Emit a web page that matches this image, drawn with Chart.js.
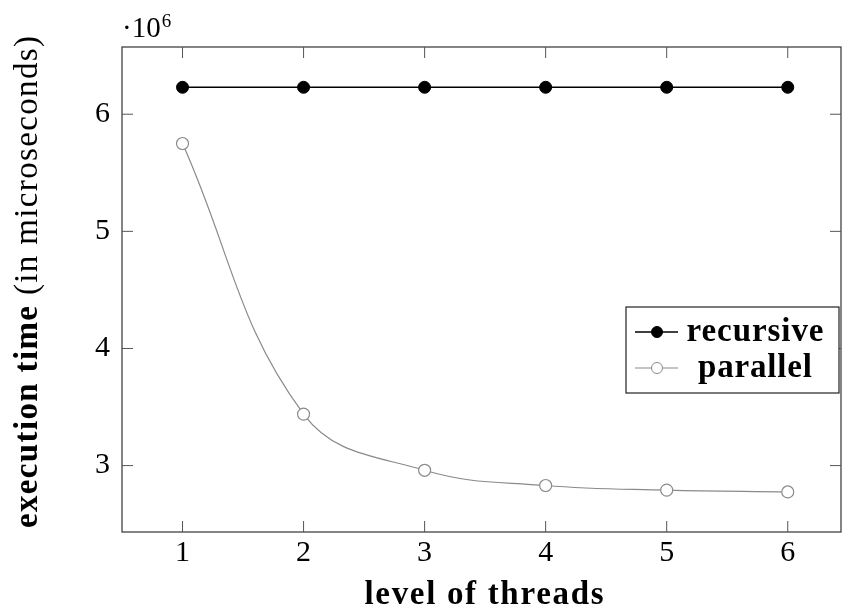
<!DOCTYPE html>
<html>
<head>
<meta charset="utf-8">
<script src="https://cdn.jsdelivr.net/npm/chart.js@4/dist/chart.umd.min.js"></script>
<style>
  html, body { margin: 0; padding: 0; background: #fff; }
  #wrap { width: 842px; height: 610px; position: relative; }
</style>
</head>
<body>
<div id="wrap"><canvas id="chart" width="842" height="610"></canvas></div>
<script>
// level of threads vs execution time (microseconds)
const threadLevels = [1, 2, 3, 4, 5, 6];
const recursiveTimes = [6.23e6, 6.23e6, 6.23e6, 6.23e6, 6.23e6, 6.23e6];
const parallelTimes = [5.75e6, 3.44e6, 2.96e6, 2.83e6, 2.79e6, 2.775e6];
const yTicks = [3e6, 4e6, 5e6, 6e6];
const seriesNames = ['recursive', 'parallel'];
const xTitle = 'level of threads';
const yTitleBold = 'execution time';
const yTitleRest = ' (in microseconds)';

const SERIF = '"Liberation Serif", "DejaVu Serif", serif';
const GRAY = '#8a8a8a';

// espaciado de letras para imitar el ancho de Computer Modern
function spacedText(ctx, parts, x, y, target) {
  ctx.letterSpacing = '0px';
  let w = 0, n = 0;
  parts.forEach(p => { ctx.font = p.font; w += ctx.measureText(p.text).width; n += p.text.length; });
  const sp = Math.max((target - w) / (n - 1), 0);
  ctx.letterSpacing = sp + 'px';
  let cx = x - target / 2;
  parts.forEach(p => {
    ctx.font = p.font;
    ctx.fillText(p.text, cx, y);
    cx += ctx.measureText(p.text).width;
  });
  ctx.letterSpacing = '0px';
}

const framePlugin = {
  id: 'frame',
  afterDraw(chart) {
    const { ctx, chartArea: a, scales: { x, y } } = chart;
    ctx.save();
    ctx.strokeStyle = '#333';
    ctx.lineWidth = 1.2;
    ctx.strokeRect(a.left, a.top, a.right - a.left, a.bottom - a.top);
    ctx.lineWidth = 1;
    ctx.strokeStyle = '#555';
    const t = 11;
    threadLevels.forEach(v => {
      const px = x.getPixelForValue(v);
      ctx.beginPath();
      ctx.moveTo(px, a.bottom); ctx.lineTo(px, a.bottom - t);
      ctx.moveTo(px, a.top); ctx.lineTo(px, a.top + t);
      ctx.stroke();
    });
    yTicks.forEach(v => {
      const py = y.getPixelForValue(v);
      ctx.beginPath();
      ctx.moveTo(a.left, py); ctx.lineTo(a.left + t, py);
      ctx.moveTo(a.right, py); ctx.lineTo(a.right - t, py);
      ctx.stroke();
    });

    // multiplicador ·10^6
    ctx.fillStyle = '#000';
    ctx.textBaseline = 'alphabetic';
    ctx.textAlign = 'left';
    ctx.font = '29px ' + SERIF;
    ctx.fillText('·10', 122, 37);
    const w10 = ctx.measureText('·10').width;
    ctx.font = '19px ' + SERIF;
    ctx.fillText('6', 122 + w10 + 1, 27);

    // título eje x
    spacedText(ctx, [{ text: xTitle, font: 'bold 33px ' + SERIF }], 484, 604, 239);

    // título eje y con partes en negrita
    ctx.save();
    ctx.translate(37, 282);
    ctx.rotate(-Math.PI / 2);
    spacedText(ctx, [
      { text: yTitleBold, font: 'bold 33px ' + SERIF },
      { text: yTitleRest, font: '33px ' + SERIF }
    ], 0, 0, 492);
    ctx.restore();
    ctx.restore();

    // leyenda dentro del área
    ctx.save();
    const lx = 626, ly = 307, lw = 213, lh = 86;
    ctx.fillStyle = '#fff';
    ctx.fillRect(lx, ly, lw, lh);
    ctx.strokeStyle = '#222';
    ctx.lineWidth = 1.2;
    ctx.strokeRect(lx, ly, lw, lh);
    const widths = [137, 114];
    chart.data.datasets.forEach((ds, i) => {
      const cy = ly + 25 + i * 36;
      ctx.strokeStyle = ds.borderColor;
      ctx.lineWidth = ds.borderWidth;
      ctx.beginPath();
      ctx.moveTo(lx + 9, cy); ctx.lineTo(lx + 52, cy);
      ctx.stroke();
      ctx.beginPath();
      ctx.arc(lx + 31, cy, 5.5, 0, Math.PI * 2);
      ctx.fillStyle = ds.pointBackgroundColor;
      ctx.fill();
      ctx.strokeStyle = ds.pointBorderColor;
      ctx.lineWidth = 1;
      ctx.stroke();
      ctx.fillStyle = '#000';
      ctx.textAlign = 'left';
      ctx.textBaseline = 'alphabetic';
      spacedText(ctx, [{ text: ds.label, font: 'bold 33px ' + SERIF }], lx + 129, cy + 9, widths[i]);
    });
    ctx.restore();
  }
};

new Chart(document.getElementById('chart'), {
  type: 'line',
  data: {
    labels: threadLevels,
    datasets: [
      {
        label: seriesNames[0],
        data: threadLevels.map((v, i) => ({ x: v, y: recursiveTimes[i] })),
        borderColor: '#000',
        borderWidth: 1.5,
        pointRadius: 6,
        pointBackgroundColor: '#000',
        pointBorderColor: '#000',
        pointBorderWidth: 1,
        tension: 0
      },
      {
        label: seriesNames[1],
        data: threadLevels.map((v, i) => ({ x: v, y: parallelTimes[i] })),
        borderColor: GRAY,
        borderWidth: 1.2,
        pointRadius: 6,
        pointBackgroundColor: '#fff',
        pointBorderColor: GRAY,
        pointBorderWidth: 1.2,
        tension: 0.4
      }
    ]
  },
  options: {
    responsive: false,
    animation: false,
    layout: { autoPadding: false, padding: { top: 47, right: 1, left: 0, bottom: 0 } },
    plugins: {
      legend: { display: false },
      tooltip: { enabled: false }
    },
    scales: {
      x: {
        type: 'linear',
        min: 0.5,
        max: 6.44,
        afterFit(scale) {
          scale.height = 78;
          scale.paddingLeft = 0;
          scale.paddingRight = 0;
        },
        afterBuildTicks(scale) { scale.ticks = threadLevels.map(v => ({ value: v })); },
        grid: { display: false, drawTicks: false },
        border: { display: false },
        ticks: {
          color: '#000',
          font: { family: SERIF, size: 30 },
          padding: 3,
          callback: v => String(v)
        }
      },
      y: {
        min: 2.433e6,
        max: 6.574e6,
        afterFit(scale) {
          scale.width = 122;
          scale.paddingTop = 0;
          scale.paddingBottom = 0;
        },
        afterBuildTicks(scale) { scale.ticks = yTicks.map(v => ({ value: v })); },
        grid: { display: false, drawTicks: false },
        border: { display: false },
        ticks: {
          color: '#000',
          font: { family: SERIF, size: 30 },
          padding: 12,
          callback: v => String(v / 1e6)
        }
      }
    }
  },
  plugins: [framePlugin]
});
</script>
</body>
</html>
